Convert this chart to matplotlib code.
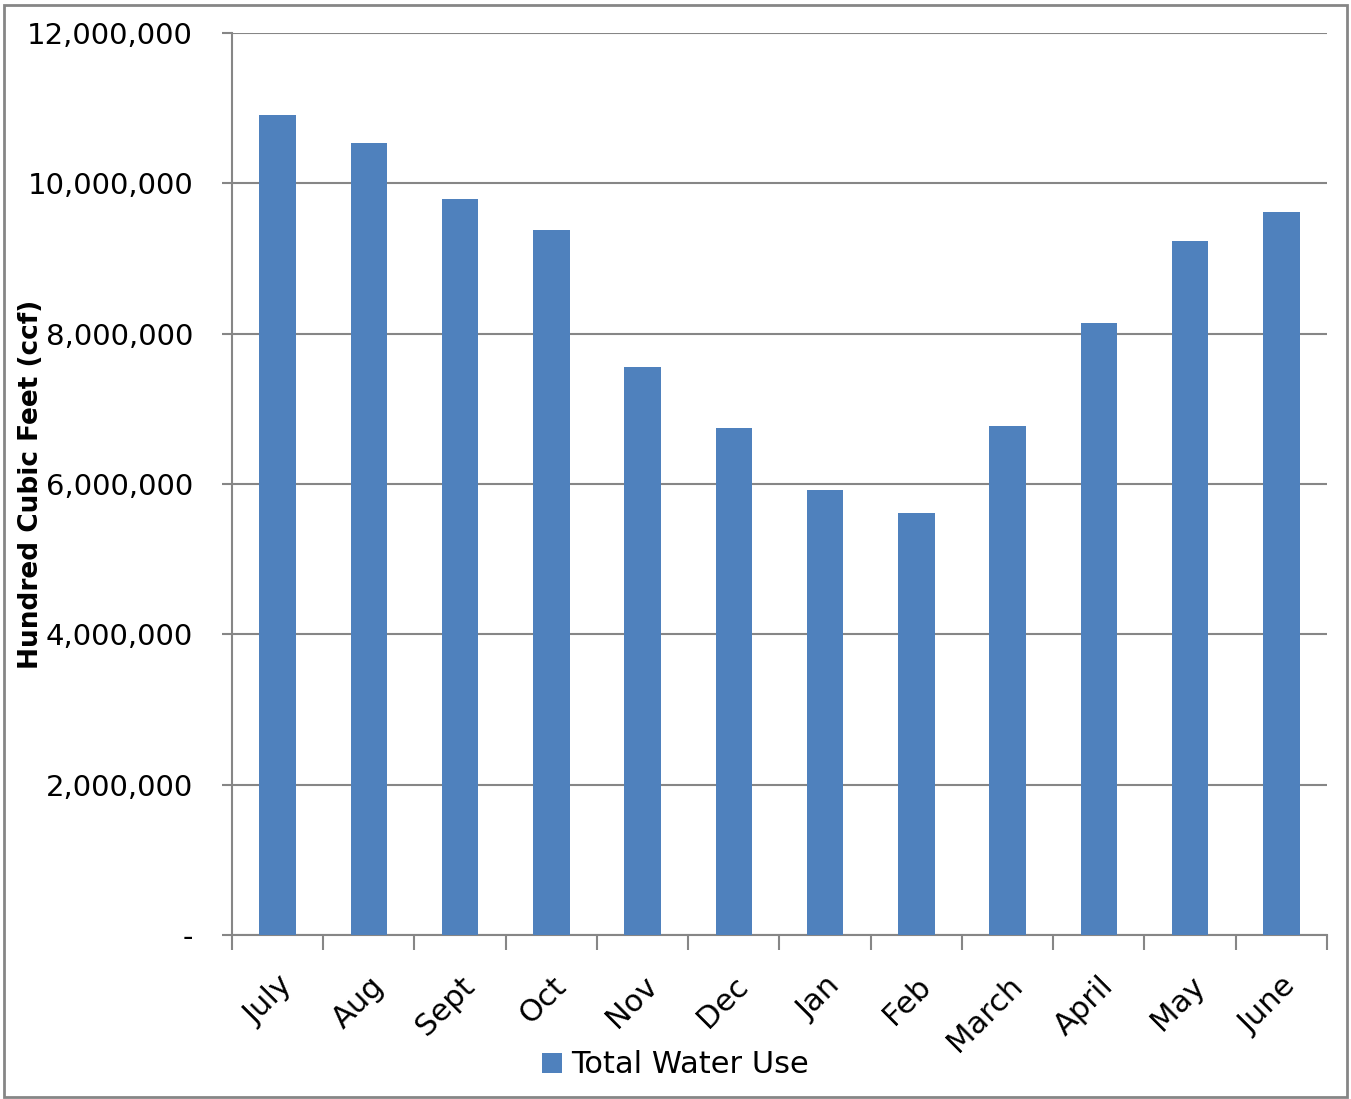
import matplotlib.pyplot as plt
import numpy as np
from matplotlib.ticker import FuncFormatter, FixedLocator
from matplotlib.patches import Rectangle

# Monthly water use data
months = ['July', 'Aug', 'Sept', 'Oct', 'Nov', 'Dec', 'Jan', 'Feb', 'March', 'April', 'May', 'June']
water_use = [10910000, 10540000, 9790000, 9380000, 7560000, 6740000,
             5920000, 5610000, 6770000, 8140000, 9230000, 9620000]

bar_color = '#4F81BD'
grid_color = '#868686'

plt.rcParams['font.family'] = 'DejaVu Sans'

fig = plt.figure(figsize=(13.51, 10.99), dpi=100)
ax = fig.add_axes([0.1717, 0.1492, 0.8105, 0.8207])

x = np.arange(len(months))
ax.bar(x, water_use, width=0.4, color=bar_color, label='Total Water Use', zorder=3)

ax.set_xlim(-0.5, len(months) - 0.5)
ax.set_ylim(0, 12000000)
ax.set_yticks(np.arange(0, 12000001, 2000000))
ax.yaxis.set_major_formatter(FuncFormatter(lambda v, p: '-' if v == 0 else f'{int(v):,}'))
ax.grid(axis='y', color=grid_color, linewidth=1.5, zorder=0)

# category labels centered, ticks at boundaries
ax.xaxis.set_major_locator(FixedLocator(np.arange(-0.5, len(months), 1.0)))
ax.xaxis.set_minor_locator(FixedLocator(x))
ax.set_xticklabels([])
ax.set_xticklabels(months, minor=True, rotation=45, ha='right', rotation_mode='anchor', fontsize=22)
ax.tick_params(axis='x', which='major', length=11, width=1.5, color=grid_color, direction='out')
ax.tick_params(axis='x', which='minor', length=0, pad=26)
ax.tick_params(axis='y', length=7, width=1.5, color=grid_color, labelsize=21, pad=21)

for side in ['top', 'right']:
    ax.spines[side].set_visible(False)
for side in ['left', 'bottom']:
    ax.spines[side].set_color(grid_color)
    ax.spines[side].set_linewidth(1.5)

ax.set_ylabel('Hundred Cubic Feet (ccf)', fontsize=19, fontweight='bold')
ax.yaxis.set_label_coords(-0.1715, 0.5)

fig.legend(loc='center', bbox_to_anchor=(0.5, 0.031), frameon=False, fontsize=22,
           handlelength=0.65, handleheight=0.65, handletextpad=0.3)

# outer border
fig.patches.append(Rectangle((0.003, 0.002), 0.994, 0.993, transform=fig.transFigure,
                             fill=False, edgecolor=grid_color, linewidth=2))

fig.savefig('out.png', dpi=100)
